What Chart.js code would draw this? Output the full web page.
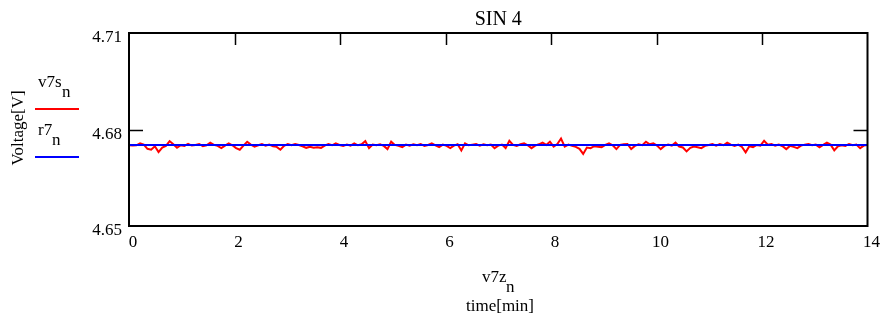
<!DOCTYPE html>
<html>
<head>
<meta charset="utf-8">
<script src="https://cdn.jsdelivr.net/npm/chart.js@4/dist/chart.umd.min.js"></script>
<style>
html,body{margin:0;padding:0;background:#fff;}
#wrap{width:882px;height:320px;position:relative;}
</style>
</head>
<body>
<div id="wrap"><canvas id="c" width="882" height="320"></canvas></div>
<script>
// ---- data ----
const chartTitle = "SIN 4";
const sampleStep = 0.07; // minutes between samples of v7s
const v7s = [
4.6751,4.6750,4.6751,4.6757,4.6753,4.6740,4.6737,4.6748,4.6730,4.6744,
4.6749,4.6764,4.6754,4.6743,4.6751,4.6749,4.6755,4.6750,4.6752,4.6755,
4.6748,4.6751,4.6759,4.6752,4.6749,4.6742,4.6750,4.6757,4.6751,4.6742,
4.6737,4.6750,4.6762,4.6753,4.6747,4.6751,4.6755,4.6750,4.6753,4.6748,
4.6746,4.6737,4.6749,4.6755,4.6751,4.6755,4.6752,4.6748,4.6743,4.6746,
4.6743,4.6745,4.6743,4.6750,4.6755,4.6751,4.6757,4.6752,4.6749,4.6753,
4.6750,4.6757,4.6751,4.6754,4.6764,4.6742,4.6753,4.6751,4.6754,4.6749,
4.6739,4.6762,4.6752,4.6749,4.6745,4.6753,4.6750,4.6754,4.6751,4.6755,
4.6749,4.6752,4.6757,4.6751,4.6745,4.6753,4.6749,4.6742,4.6750,4.6754,
4.6735,4.6757,4.6751,4.6753,4.6755,4.6750,4.6754,4.6751,4.6753,4.6742,
4.6750,4.6753,4.6742,4.6765,4.6752,4.6749,4.6754,4.6757,4.6751,4.6742,
4.6750,4.6754,4.6759,4.6752,4.6762,4.6747,4.6755,4.6772,4.6747,4.6753,
4.6749,4.6746,4.6740,4.6724,4.6744,4.6742,4.6748,4.6746,4.6745,4.6752,
4.6757,4.6751,4.6739,4.6752,4.6754,4.6755,4.6739,4.6749,4.6754,4.6751,
4.6762,4.6754,4.6757,4.6750,4.6739,4.6749,4.6753,4.6750,4.6759,4.6747,
4.6744,4.6732,4.6743,4.6747,4.6745,4.6742,4.6749,4.6752,4.6755,4.6750,
4.6755,4.6751,4.6759,4.6753,4.6749,4.6753,4.6746,4.6729,4.6748,4.6745,
4.6752,4.6750,4.6765,4.6753,4.6755,4.6750,4.6753,4.6748,4.6739,4.6749,
4.6746,4.6742,4.6750,4.6753,4.6755,4.6751,4.6753,4.6745,4.6752,4.6759,
4.6753,4.6735,4.6748,4.6751,4.6749,4.6755,4.6751,4.6753,4.6742,4.6750,
4.6752
];
const r7Times = [0, 14];
const r7 = [4.6752, 4.6752];
const xTicks = [0, 2, 4, 6, 8, 10, 12, 14];
const yTicks = [4.65, 4.68, 4.71];
const legendLabels = [["v7s", "n"], ["r7", "n"]];
const xTitle = ["v7z", "n"];
const xSubTitle = "time[min]";
const yTitle = "Voltage[V]";

// ---- build ----
const redPts = v7s.map((v, i) => ({x: +(i * sampleStep).toFixed(2), y: v}));
const bluePts = r7.map((v, i) => ({x: r7Times[i], y: v}));
const FONT = "'Liberation Serif','Times New Roman',serif";

const decor = {
  id: 'decor',
  afterDatasetsDraw(chart) {
    const ctx = chart.ctx, a = chart.chartArea;
    const xs = chart.scales.x, ys = chart.scales.y;
    ctx.save();
    ctx.strokeStyle = '#000';
    ctx.lineWidth = 2;
    ctx.strokeRect(a.left, a.top, a.right - a.left, a.bottom - a.top);
    ctx.lineWidth = 1.5;
    xTicks.slice(1, -1).forEach(t => {
      const px = Math.round(xs.getPixelForValue(t)) + 0.5;
      ctx.beginPath(); ctx.moveTo(px, a.top); ctx.lineTo(px, a.top + 12); ctx.stroke();
    });
    yTicks.slice(1, -1).forEach(t => {
      const py = Math.round(ys.getPixelForValue(t)) + 0.5;
      ctx.beginPath(); ctx.moveTo(a.left, py); ctx.lineTo(a.left + 14, py); ctx.stroke();
      ctx.beginPath(); ctx.moveTo(a.right, py); ctx.lineTo(a.right - 14, py); ctx.stroke();
    });
    ctx.restore();
  },
  afterDraw(chart) {
    const ctx = chart.ctx, a = chart.chartArea;
    ctx.save();
    ctx.fillStyle = '#000';
    ctx.textBaseline = 'alphabetic';
    // title
    ctx.font = '20px ' + FONT;
    ctx.textAlign = 'center';
    ctx.fillText(chartTitle, (a.left + a.right) / 2, 25);
    ctx.font = '17px ' + FONT;
    // x title with subscript
    ctx.textAlign = 'left';
    ctx.fillText(xTitle[0], 482, 282);
    ctx.fillText(xTitle[1], 506, 292);
    ctx.textAlign = 'center';
    ctx.fillText(xSubTitle, 500, 311);
    // y title rotated
    ctx.save();
    ctx.translate(23, 128);
    ctx.rotate(-Math.PI / 2);
    ctx.textAlign = 'center';
    ctx.fillText(yTitle, 0, 0);
    ctx.restore();
    // legend
    ctx.textAlign = 'left';
    ctx.fillText(legendLabels[0][0], 38, 87);
    ctx.fillText(legendLabels[0][1], 62, 97);
    ctx.fillText(legendLabels[1][0], 38, 135);
    ctx.fillText(legendLabels[1][1], 52, 145);
    ctx.lineWidth = 2;
    ctx.strokeStyle = '#ff0000';
    ctx.beginPath(); ctx.moveTo(35, 109); ctx.lineTo(79, 109); ctx.stroke();
    ctx.strokeStyle = '#0000ff';
    ctx.beginPath(); ctx.moveTo(35, 157); ctx.lineTo(79, 157); ctx.stroke();
    ctx.restore();
  }
};

new Chart(document.getElementById('c'), {
  type: 'line',
  data: {
    datasets: [
      {label: 'r7', data: bluePts, borderColor: '#0000ff', borderWidth: 2, pointRadius: 0, order: 0, tension: 0},
      {label: 'v7s', data: redPts, borderColor: '#ff0000', borderWidth: 2, pointRadius: 0, order: 1, tension: 0}
    ]
  },
  options: {
    responsive: false,
    animation: false,
    events: [],
    layout: {padding: {top: 33, right: 14, left: 0, bottom: 0}},
    plugins: {legend: {display: false}, title: {display: false}, tooltip: {enabled: false}},
    scales: {
      x: {
        type: 'linear', min: 0, max: 14,
        afterFit(s) { s.height = 94; },
        afterBuildTicks(s) { s.ticks = xTicks.map(v => ({value: v})); },
        grid: {display: false, drawTicks: false},
        border: {display: false},
        ticks: {font: {family: FONT, size: 17}, color: '#000', padding: 6, labelOffset: 4, maxRotation: 0, autoSkip: false}
      },
      y: {
        type: 'linear', min: 4.65, max: 4.71,
        afterFit(s) { s.width = 129; },
        afterBuildTicks(s) { s.ticks = yTicks.map(v => ({value: v})); },
        grid: {display: false, drawTicks: false},
        border: {display: false},
        ticks: {font: {family: FONT, size: 17}, color: '#000', padding: 7, labelOffset: 5, autoSkip: false,
                callback: v => v.toFixed(2)}
      }
    }
  },
  plugins: [decor]
});
</script>
</body>
</html>
